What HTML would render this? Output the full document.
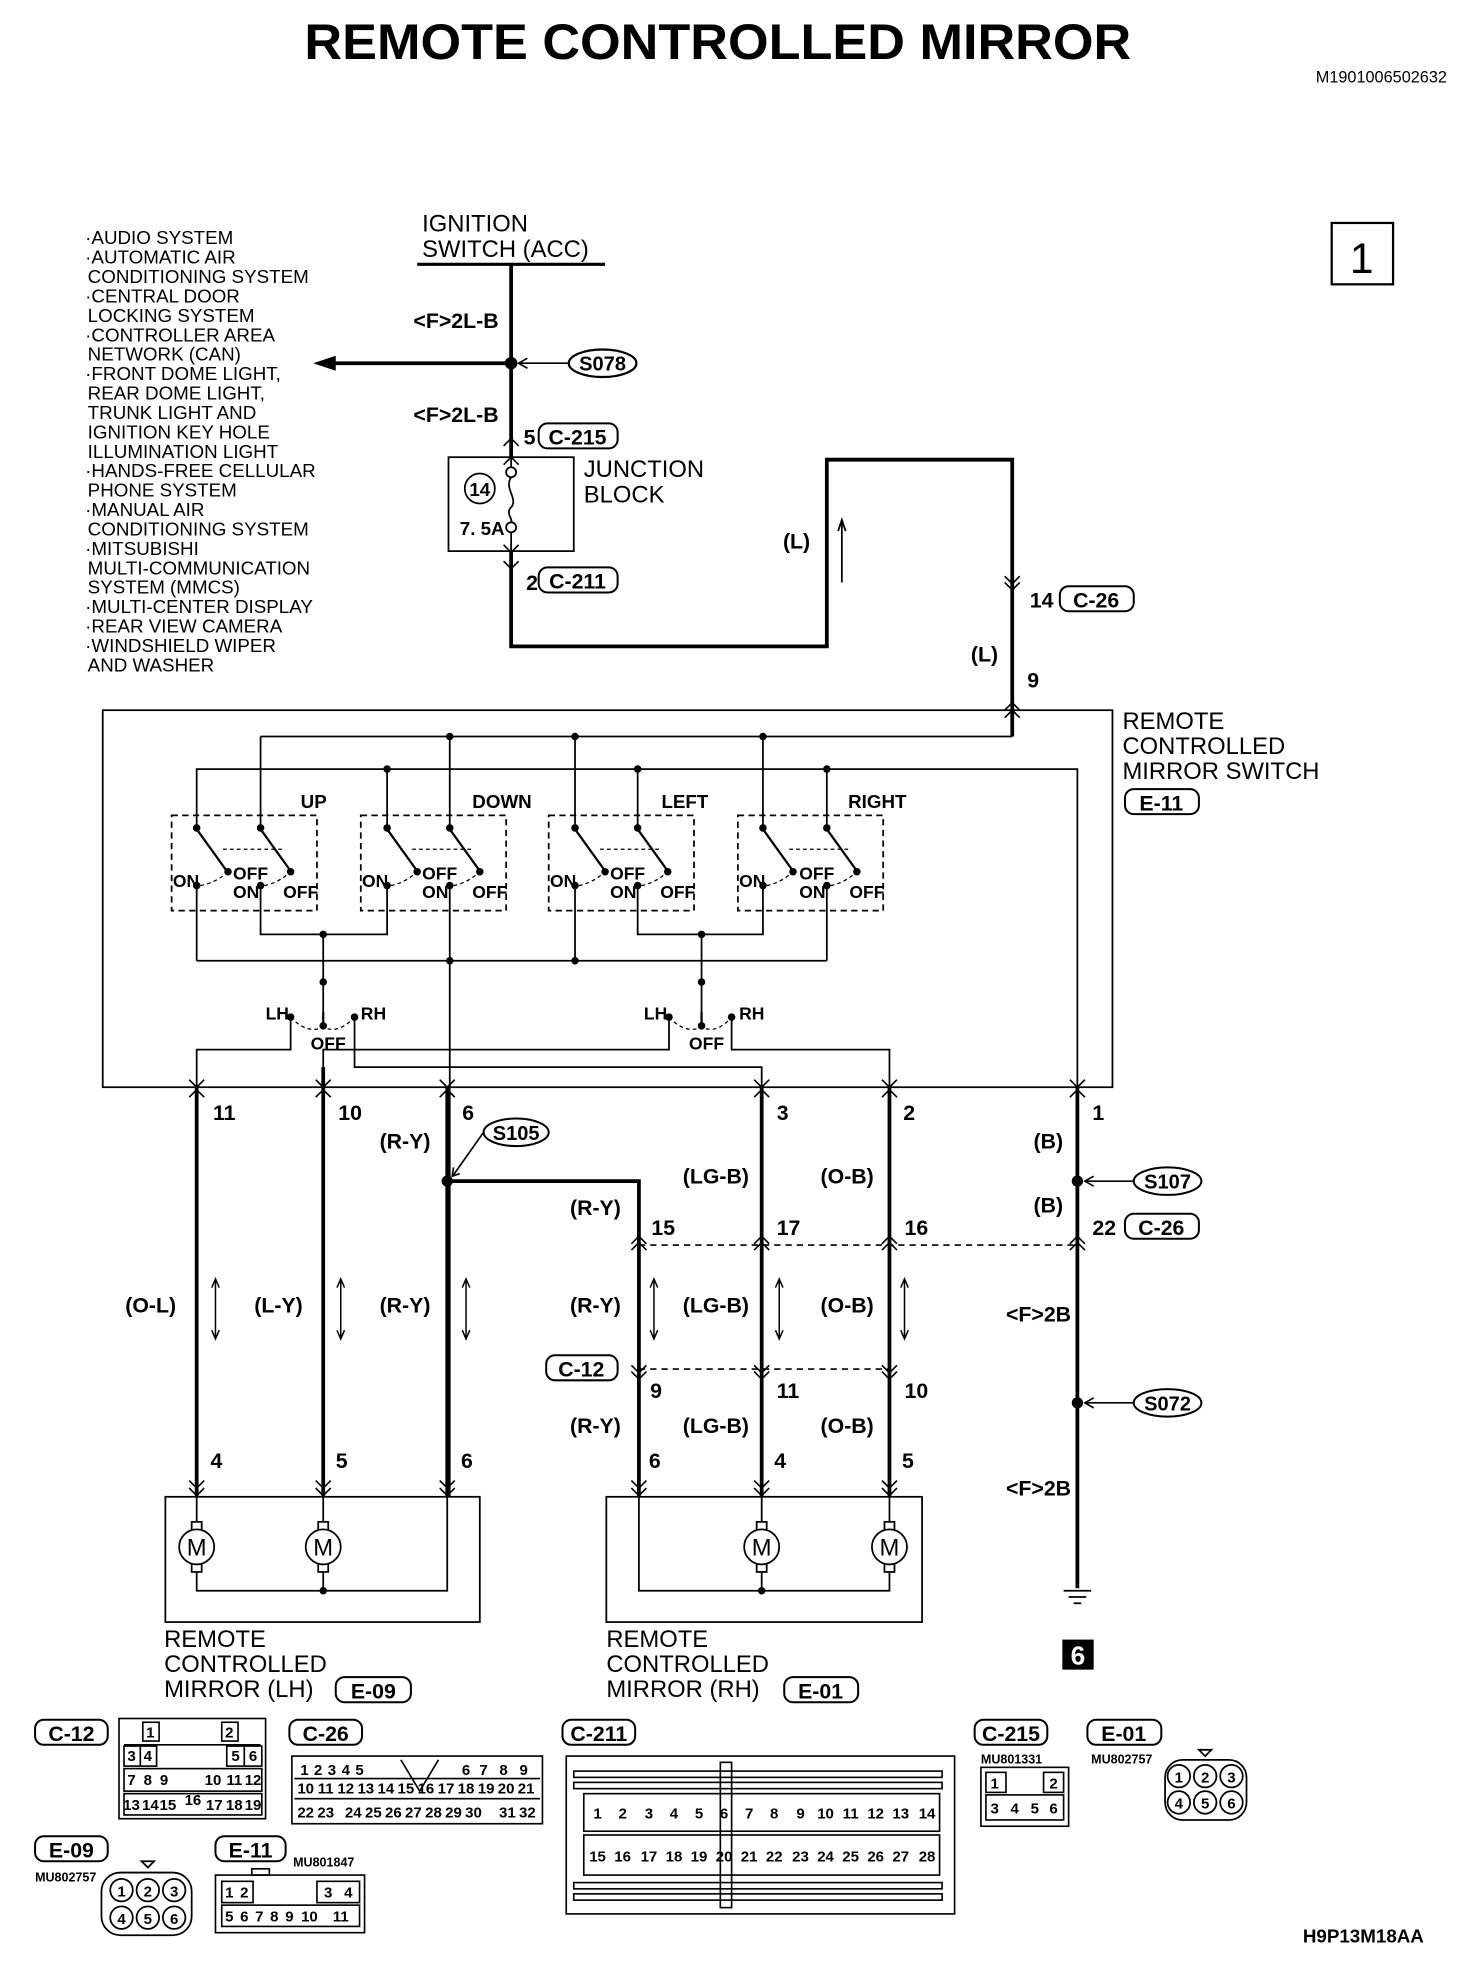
<!DOCTYPE html>
<html><head><meta charset="utf-8"><style>
html,body{margin:0;padding:0;background:#fff;}
svg{display:block}
.t{font-family:"Liberation Sans",sans-serif;}
.n{font-family:"Liberation Sans Narrow","Liberation Sans",sans-serif;font-weight:bold;}
</style></head><body>
<svg width="1472" height="1964" viewBox="0 0 1175 1568" preserveAspectRatio="none" xmlns="http://www.w3.org/2000/svg">
<rect width="1175" height="1568" fill="#fff"/>
<text class="t" x="243" y="47" font-size="40" font-weight="bold" textLength="660" lengthAdjust="spacingAndGlyphs">REMOTE CONTROLLED MIRROR</text>
<text class="t" x="1155" y="66" font-size="13" text-anchor="end">M1901006502632</text>
<rect x="1063" y="178" width="49" height="49" fill="none" stroke="#000" stroke-width="1.8"/>
<text class="t" x="1087" y="218" font-size="34" text-anchor="middle">1</text>

<g class="t" font-size="15">
<text x="68" y="195">·AUDIO SYSTEM</text>
<text x="68" y="210.5">·AUTOMATIC AIR</text>
<text x="70" y="226">CONDITIONING SYSTEM</text>
<text x="68" y="241.5">·CENTRAL DOOR</text>
<text x="70" y="257">LOCKING SYSTEM</text>
<text x="68" y="272.5">·CONTROLLER AREA</text>
<text x="70" y="288">NETWORK (CAN)</text>
<text x="68" y="303.5">·FRONT DOME LIGHT,</text>
<text x="70" y="319">REAR DOME LIGHT,</text>
<text x="70" y="334.5">TRUNK LIGHT AND</text>
<text x="70" y="350">IGNITION KEY HOLE</text>
<text x="70" y="365.5">ILLUMINATION LIGHT</text>
<text x="68" y="381">·HANDS-FREE CELLULAR</text>
<text x="70" y="396.5">PHONE SYSTEM</text>
<text x="68" y="412">·MANUAL AIR</text>
<text x="70" y="427.5">CONDITIONING SYSTEM</text>
<text x="68" y="443">·MITSUBISHI</text>
<text x="70" y="458.5">MULTI-COMMUNICATION</text>
<text x="70" y="474">SYSTEM (MMCS)</text>
<text x="68" y="489.5">·MULTI-CENTER DISPLAY</text>
<text x="68" y="505">·REAR VIEW CAMERA</text>
<text x="68" y="520.5">·WINDSHIELD WIPER</text>
<text x="70" y="536">AND WASHER</text>
</g>

<g class="t" font-size="19">
<text x="337" y="185">IGNITION</text>
<text x="337" y="205">SWITCH (ACC)</text>
<text x="466" y="381">JUNCTION</text>
<text x="466" y="401">BLOCK</text>
<text x="896" y="582">REMOTE</text>
<text x="896" y="602">CONTROLLED</text>
<text x="896" y="622">MIRROR SWITCH</text>
<text x="131" y="1315">REMOTE</text>
<text x="131" y="1335">CONTROLLED</text>
<text x="131" y="1355">MIRROR (LH)</text>
<text x="484" y="1315">REMOTE</text>
<text x="484" y="1335">CONTROLLED</text>
<text x="484" y="1355">MIRROR (RH)</text>
</g>
<line x1="333" y1="211" x2="483" y2="211" stroke="#000" stroke-width="2.5"/>

<g stroke="#000" stroke-width="3" fill="none">
<line x1="408" y1="211" x2="408" y2="365"/>
<line x1="265" y1="290" x2="408" y2="290"/>
<polyline points="408,440 408,516 660,516 660,367 808,367 808,588"/>
<line x1="157" y1="868" x2="157" y2="1195"/>
<line x1="258" y1="852" x2="258" y2="1195"/>
<line x1="357" y1="868" x2="357" y2="1195"/>
<polyline points="357,943 510,943 510,1195"/>
<line x1="608" y1="868" x2="608" y2="1195"/>
<line x1="710" y1="868" x2="710" y2="1195"/>
<line x1="860" y1="868" x2="860" y2="1268"/>
</g>
<polygon points="250,290 268,284 268,296" fill="#000"/>
<circle cx="408" cy="290" r="5" fill="#000"/>
<ellipse cx="481" cy="290" rx="27" ry="11" fill="#fff" stroke="#000" stroke-width="1.8"/>
<line x1="454" y1="290" x2="414" y2="290" stroke="#000" stroke-width="1.3"/>
<polyline points="421,286 414,290 421,294" fill="none" stroke="#000" stroke-width="1.3"/>

<g class="n" font-size="17">
<text x="481" y="296" text-anchor="middle" font-size="16">S078</text>
<text x="330" y="262">&lt;F&gt;2L-B</text>
<text x="330" y="337">&lt;F&gt;2L-B</text>
<text x="418" y="355">5</text>
<text x="420" y="471">2</text>
<text x="625" y="438">(L)</text>
<text x="822" y="485">14</text>
<text x="775" y="528">(L)</text>
<text x="820" y="549">9</text>
<text x="367" y="427" font-size="15">7. 5A</text>
<text x="240" y="645" font-size="15">UP</text>
<text x="377" y="645" font-size="15">DOWN</text>
<text x="528" y="645" font-size="15">LEFT</text>
<text x="677" y="645" font-size="15">RIGHT</text>
<text x="170" y="894">11</text><text x="270" y="894">10</text><text x="369" y="894">6</text>
<text x="620" y="894">3</text><text x="721" y="894">2</text><text x="872" y="894">1</text>
<text x="303" y="917">(R-Y)</text>
<text x="825" y="917">(B)</text>
<text x="545" y="945">(LG-B)</text>
<text x="655" y="945">(O-B)</text>
<text x="825" y="968">(B)</text>
<text x="455" y="970">(R-Y)</text>
<text x="520" y="986">15</text><text x="620" y="986">17</text><text x="722" y="986">16</text><text x="872" y="986">22</text>
<text x="100" y="1048">(O-L)</text><text x="203" y="1048">(L-Y)</text><text x="303" y="1048">(R-Y)</text>
<text x="455" y="1048">(R-Y)</text><text x="545" y="1048">(LG-B)</text><text x="655" y="1048">(O-B)</text>
<text x="803" y="1055">&lt;F&gt;2B</text>
<text x="519" y="1116">9</text><text x="620" y="1116">11</text><text x="722" y="1116">10</text>
<text x="455" y="1144">(R-Y)</text><text x="545" y="1144">(LG-B)</text><text x="655" y="1144">(O-B)</text>
<text x="168" y="1172">4</text><text x="268" y="1172">5</text><text x="368" y="1172">6</text>
<text x="518" y="1172">6</text><text x="618" y="1172">4</text><text x="720" y="1172">5</text>
<text x="803" y="1194">&lt;F&gt;2B</text>
</g>

<g stroke="#000" stroke-width="1.6" fill="#fff">
<rect x="430" y="338" width="63" height="20" rx="7"/>
<rect x="430" y="453" width="63" height="20" rx="7"/>
<rect x="846" y="468" width="59" height="20" rx="7"/>
<rect x="898" y="630" width="59" height="20" rx="7"/>
<rect x="898" y="969" width="59" height="20" rx="7"/>
<rect x="436" y="1082" width="57" height="20" rx="7"/>
<rect x="268" y="1339" width="60" height="20" rx="7"/>
<rect x="626" y="1339" width="59" height="20" rx="7"/>
<ellipse cx="412" cy="904" rx="26" ry="11"/>
<ellipse cx="932" cy="943" rx="27" ry="11"/>
<ellipse cx="932" cy="1120" rx="27" ry="11"/>
</g>
<g class="n" font-size="17" text-anchor="middle">
<text x="461" y="355">C-215</text><text x="461" y="470">C-211</text>
<text x="875" y="485">C-26</text><text x="927" y="647">E-11</text>
<text x="927" y="986">C-26</text><text x="464" y="1099">C-12</text>
<text x="298" y="1356">E-09</text><text x="655" y="1356">E-01</text>
<text x="412" y="910" font-size="16">S105</text>
<text x="932" y="949" font-size="16">S107</text>
<text x="932" y="1126" font-size="16">S072</text>
</g>
<g stroke="#000" stroke-width="1.3" fill="none">
<line x1="386" y1="904" x2="362" y2="938"/>
<line x1="905" y1="943" x2="866" y2="943"/><polyline points="873,939 866,943 873,947"/>
<line x1="905" y1="1120" x2="866" y2="1120"/><polyline points="873,1116 866,1120 873,1124"/>
</g>
<polyline points="362,932 361,939 367,937" fill="none" stroke="#000" stroke-width="1.3"/>
<circle cx="357" cy="943" r="4.5"/><circle cx="860" cy="943" r="4.5"/><circle cx="860" cy="1120" r="4.5"/>

<rect x="358" y="365" width="100" height="75" fill="none" stroke="#000" stroke-width="1.4"/>
<circle cx="383" cy="390" r="12" fill="none" stroke="#000" stroke-width="1.4"/>
<text class="n" x="383" y="396" font-size="15" text-anchor="middle">14</text>
<g stroke="#000" stroke-width="1.4" fill="none">
<line x1="408" y1="365" x2="408" y2="373"/><circle cx="408" cy="377" r="4" fill="#fff"/>
<path d="M408,381 C402,390 414,398 408,405 C403,410 410,414 408,418"/>
<circle cx="408" cy="421" r="4" fill="#fff"/><line x1="408" y1="425" x2="408" y2="440"/>
<line x1="672" y1="465" x2="672" y2="417"/><polyline points="669,424 672,415 675,424"/>
</g>

<g stroke="#000" stroke-width="1.3" fill="none">
<polyline points="402,356 408,350 414,356"/><polyline points="402,371 408,365 414,371"/>
<polyline points="402,435 408,441 414,435"/><polyline points="402,448 408,454 414,448"/>
<polyline points="802,460 808,466 814,460"/><polyline points="802,465 808,471 814,465"/>
<polyline points="802,567 808,561 814,567"/><polyline points="802,573 808,567 814,573"/>
<polyline points="151,862 157,868 163,862"/><polyline points="151,876 157,870 163,876"/>
<polyline points="252,862 258,868 264,862"/><polyline points="252,876 258,870 264,876"/>
<polyline points="351,862 357,868 363,862"/><polyline points="351,876 357,870 363,876"/>
<polyline points="602,862 608,868 614,862"/><polyline points="602,876 608,870 614,876"/>
<polyline points="704,862 710,868 716,862"/><polyline points="704,876 710,870 716,876"/>
<polyline points="854,862 860,868 866,862"/><polyline points="854,876 860,870 866,876"/>
<polyline points="504,998 510,992 516,998"/><polyline points="504,993 510,987 516,993"/>
<polyline points="602,998 608,992 614,998"/><polyline points="602,993 608,987 614,993"/>
<polyline points="704,998 710,992 716,998"/><polyline points="704,993 710,987 716,993"/>
<polyline points="854,998 860,992 866,998"/><polyline points="854,993 860,987 866,993"/>
<polyline points="504,1090 510,1096 516,1090"/><polyline points="504,1095 510,1101 516,1095"/>
<polyline points="602,1090 608,1096 614,1090"/><polyline points="602,1095 608,1101 614,1095"/>
<polyline points="704,1090 710,1096 716,1090"/><polyline points="704,1095 710,1101 716,1095"/>
<polyline points="151,1182 157,1188 163,1182"/><polyline points="151,1188 157,1194 163,1188"/>
<polyline points="252,1182 258,1188 264,1182"/><polyline points="252,1188 258,1194 264,1188"/>
<polyline points="351,1182 357,1188 363,1182"/><polyline points="351,1188 357,1194 363,1188"/>
<polyline points="504,1182 510,1188 516,1182"/><polyline points="504,1188 510,1194 516,1188"/>
<polyline points="602,1182 608,1188 614,1182"/><polyline points="602,1188 608,1194 614,1188"/>
<polyline points="704,1182 710,1188 716,1182"/><polyline points="704,1188 710,1194 716,1188"/>
</g>
<g stroke="#000" stroke-width="1.3" stroke-dasharray="5,4" fill="none">
<line x1="510" y1="994" x2="860" y2="994"/>
<line x1="510" y1="1093" x2="710" y2="1093"/>
</g>
<g stroke="#000" stroke-width="1.2" fill="none">
<line x1="172" y1="1022" x2="172" y2="1068"/><polyline points="169,1028 172,1021 175,1028"/><polyline points="169,1062 172,1069 175,1062"/>
<line x1="272" y1="1022" x2="272" y2="1068"/><polyline points="269,1028 272,1021 275,1028"/><polyline points="269,1062 272,1069 275,1062"/>
<line x1="372" y1="1022" x2="372" y2="1068"/><polyline points="369,1028 372,1021 375,1028"/><polyline points="369,1062 372,1069 375,1062"/>
<line x1="522" y1="1022" x2="522" y2="1068"/><polyline points="519,1028 522,1021 525,1028"/><polyline points="519,1062 522,1069 525,1062"/>
<line x1="622" y1="1022" x2="622" y2="1068"/><polyline points="619,1028 622,1021 625,1028"/><polyline points="619,1062 622,1069 625,1062"/>
<line x1="722" y1="1022" x2="722" y2="1068"/><polyline points="719,1028 722,1021 725,1028"/><polyline points="719,1062 722,1069 725,1062"/>
</g>

<g stroke="#000" stroke-width="1.4" fill="none">
<rect x="82" y="567" width="806" height="301"/>
<line x1="208" y1="588" x2="808" y2="588"/>
<polyline points="157,660 157,614 860,614 860,868"/>
<line x1="208" y1="588" x2="208" y2="660"/>
<line x1="309" y1="614" x2="309" y2="660"/><line x1="359" y1="588" x2="359" y2="660"/>
<line x1="459" y1="588" x2="459" y2="660"/><line x1="509" y1="614" x2="509" y2="660"/>
<line x1="609" y1="588" x2="609" y2="660"/><line x1="660" y1="614" x2="660" y2="660"/>
<line x1="157" y1="707" x2="157" y2="767"/>
<polyline points="208,707 208,746 309,746 309,707"/>
<line x1="359" y1="707" x2="359" y2="1195"/>
<line x1="459" y1="707" x2="459" y2="767"/>
<polyline points="509,707 509,746 609,746 609,707"/>
<line x1="660" y1="707" x2="660" y2="767"/>
<line x1="157" y1="767" x2="660" y2="767"/>
<line x1="258" y1="746" x2="258" y2="808"/>
<line x1="560" y1="746" x2="560" y2="808"/>
<polyline points="232,812 232,838 157,838 157,868"/>
<polyline points="258,852 258,838 534,838 534,812"/>
<polyline points="283,812 283,852 608,852 608,868"/>
<polyline points="584,812 584,838 710,838 710,868"/>
</g>
<g stroke="#000" stroke-width="1.4" stroke-dasharray="5,3.5" fill="none">
<rect x="137" y="651" width="116" height="76"/><rect x="288" y="651" width="116" height="76"/>
<rect x="438" y="651" width="116" height="76"/><rect x="589" y="651" width="116" height="76"/>
</g>
<g stroke="#000" stroke-width="1" stroke-dasharray="3,2.5" fill="none">
<path d="M178,678 L225,678 M329,678 L376,678 M479,678 L526,678 M630,678 L677,678"/>
<path d="M160,707 Q172,705 182,696 M211,707 Q222,705 232,696"/>
<path d="M312,707 Q323,705 333,696 M362,707 Q373,705 383,696"/>
<path d="M462,707 Q473,705 483,696 M512,707 Q523,705 533,696"/>
<path d="M612,707 Q623,705 633,696 M663,707 Q674,705 684,696"/>
<path d="M232,812 Q245,826 258,820 Q270,826 283,812"/>
<path d="M534,812 Q547,826 560,820 Q572,826 584,812"/>
</g>
<g stroke="#000" stroke-width="1.8">
<line x1="157" y1="662" x2="180" y2="694"/><line x1="208" y1="662" x2="231" y2="694"/>
<line x1="309" y1="662" x2="332" y2="694"/><line x1="359" y1="662" x2="382" y2="694"/>
<line x1="459" y1="662" x2="482" y2="694"/><line x1="509" y1="662" x2="532" y2="694"/>
<line x1="609" y1="662" x2="632" y2="694"/><line x1="660" y1="662" x2="683" y2="694"/>
<line x1="258" y1="808" x2="258" y2="818"/><line x1="560" y1="808" x2="560" y2="818"/>
</g>
<g fill="#000">
<circle cx="359" cy="588" r="3"/><circle cx="459" cy="588" r="3"/><circle cx="609" cy="588" r="3"/>
<circle cx="309" cy="614" r="3"/><circle cx="509" cy="614" r="3"/><circle cx="660" cy="614" r="3"/>
<circle cx="157" cy="661" r="3"/><circle cx="208" cy="661" r="3"/><circle cx="309" cy="661" r="3"/><circle cx="359" cy="661" r="3"/>
<circle cx="459" cy="661" r="3"/><circle cx="509" cy="661" r="3"/><circle cx="609" cy="661" r="3"/><circle cx="660" cy="661" r="3"/>
<circle cx="182" cy="696" r="3"/><circle cx="232" cy="696" r="3"/><circle cx="333" cy="696" r="3"/><circle cx="383" cy="696" r="3"/>
<circle cx="483" cy="696" r="3"/><circle cx="533" cy="696" r="3"/><circle cx="633" cy="696" r="3"/><circle cx="684" cy="696" r="3"/>
<circle cx="157" cy="707" r="3"/><circle cx="208" cy="707" r="3"/><circle cx="309" cy="707" r="3"/><circle cx="359" cy="707" r="3"/>
<circle cx="459" cy="707" r="3"/><circle cx="509" cy="707" r="3"/><circle cx="609" cy="707" r="3"/><circle cx="660" cy="707" r="3"/>
<circle cx="258" cy="746" r="3"/><circle cx="560" cy="746" r="3"/>
<circle cx="359" cy="767" r="3"/><circle cx="459" cy="767" r="3"/>
<circle cx="258" cy="784" r="3"/><circle cx="560" cy="784" r="3"/>
<circle cx="232" cy="812" r="3"/><circle cx="283" cy="812" r="3"/><circle cx="534" cy="812" r="3"/><circle cx="584" cy="812" r="3"/>
<circle cx="258" cy="819" r="3"/><circle cx="560" cy="819" r="3"/>
</g>
<g class="n" font-size="14">
<text x="138" y="708">ON</text><text x="186" y="702">OFF</text><text x="186" y="717">ON</text><text x="226" y="717">OFF</text>
<text x="289" y="708">ON</text><text x="337" y="702">OFF</text><text x="337" y="717">ON</text><text x="377" y="717">OFF</text>
<text x="439" y="708">ON</text><text x="487" y="702">OFF</text><text x="487" y="717">ON</text><text x="527" y="717">OFF</text>
<text x="590" y="708">ON</text><text x="638" y="702">OFF</text><text x="638" y="717">ON</text><text x="678" y="717">OFF</text>
<text x="212" y="814">LH</text><text x="288" y="814">RH</text><text x="248" y="838">OFF</text>
<text x="514" y="814">LH</text><text x="590" y="814">RH</text><text x="550" y="838">OFF</text>
</g>

<g stroke="#000" stroke-width="1.4" fill="none">
<rect x="132" y="1195" width="251" height="100"/>
<rect x="484" y="1195" width="252" height="100"/>
<polyline points="157,1195 157,1270 357,1270 357,1195"/>
<line x1="258" y1="1195" x2="258" y2="1270"/>
<polyline points="510,1195 510,1270 710,1270 710,1195"/>
<line x1="608" y1="1195" x2="608" y2="1270"/>
</g>
<g stroke="#000" stroke-width="1.4" fill="#fff">
<rect x="153" y="1215" width="8" height="40"/><circle cx="157" cy="1235" r="14"/>
<rect x="254" y="1215" width="8" height="40"/><circle cx="258" cy="1235" r="14"/>
<rect x="604" y="1215" width="8" height="40"/><circle cx="608" cy="1235" r="14"/>
<rect x="706" y="1215" width="8" height="40"/><circle cx="710" cy="1235" r="14"/>
</g>
<g class="t" font-size="19" text-anchor="middle">
<text x="157" y="1242">M</text><text x="258" y="1242">M</text><text x="608" y="1242">M</text><text x="710" y="1242">M</text>
</g>
<circle cx="258" cy="1270" r="3"/><circle cx="608" cy="1270" r="3"/>
<g stroke="#000" stroke-width="1.4">
<line x1="849" y1="1270" x2="871" y2="1270"/><line x1="853" y1="1275" x2="867" y2="1275"/><line x1="857" y1="1280" x2="863" y2="1280"/>
</g>
<rect x="848" y="1309" width="25" height="24" fill="#000"/>
<text class="n" x="860.5" y="1329" font-size="21" fill="#fff" text-anchor="middle">6</text>

<g stroke="#000" stroke-width="1.6" fill="#fff">
<rect x="28" y="1373" width="58" height="20" rx="7"/>
<rect x="231" y="1373" width="58" height="20" rx="7"/>
<rect x="449" y="1373" width="58" height="20" rx="7"/>
<rect x="778" y="1373" width="58" height="20" rx="7"/>
<rect x="868" y="1373" width="59" height="20" rx="7"/>
<rect x="28" y="1466" width="58" height="20" rx="7"/>
<rect x="172" y="1466" width="56" height="20" rx="7"/>
</g>
<g class="n" font-size="17" text-anchor="middle">
<text x="57" y="1390">C-12</text><text x="260" y="1390">C-26</text><text x="478" y="1390">C-211</text>
<text x="807" y="1390">C-215</text><text x="897" y="1390">E-01</text><text x="57" y="1483">E-09</text><text x="200" y="1483">E-11</text>
</g>
<g class="n" font-size="10">
<text x="783" y="1408">MU801331</text><text x="871" y="1408">MU802757</text>
<text x="28" y="1502">MU802757</text><text x="234" y="1490">MU801847</text>
</g>
<text class="n" x="1040" y="1551" font-size="15">H9P13M18AA</text>

<g stroke="#000" stroke-width="1.3" fill="none">
<rect x="95" y="1372" width="117" height="80"/>
<rect x="114" y="1375" width="13" height="15"/><rect x="177" y="1375" width="13" height="15"/>
<line x1="99" y1="1393" x2="208" y2="1393"/>
<rect x="99" y="1394" width="26" height="16"/><line x1="112" y1="1394" x2="112" y2="1410"/>
<rect x="181" y="1394" width="28" height="16"/><line x1="195" y1="1394" x2="195" y2="1410"/>
<rect x="99" y="1412" width="110" height="18"/>
<rect x="99" y="1432" width="110" height="17"/>
</g>
<g class="n" font-size="12" text-anchor="middle">
<text x="120" y="1387">1</text><text x="183" y="1387">2</text>
<text x="105" y="1406">3</text><text x="118" y="1406">4</text><text x="188" y="1406">5</text><text x="202" y="1406">6</text>
<text x="105" y="1425">7</text><text x="118" y="1425">8</text><text x="131" y="1425">9</text><text x="170" y="1425">10</text><text x="187" y="1425">11</text><text x="202" y="1425">12</text>
<text x="105" y="1445">13</text><text x="120" y="1445">14</text><text x="134" y="1445">15</text><text x="154" y="1441">16</text><text x="171" y="1445">17</text><text x="187" y="1445">18</text><text x="202" y="1445">19</text>
</g>
<g stroke="#000" stroke-width="1.3" fill="none">
<rect x="233" y="1402" width="200" height="54"/>
<line x1="235" y1="1420" x2="431" y2="1420"/><line x1="235" y1="1436" x2="431" y2="1436"/>
<polyline points="320,1405 335,1430 350,1405"/>
</g>
<g class="n" font-size="12" text-anchor="middle">
<text x="243" y="1417">1</text><text x="254" y="1417">2</text><text x="265" y="1417">3</text><text x="276" y="1417">4</text><text x="287" y="1417">5</text>
<text x="372" y="1417">6</text><text x="386" y="1417">7</text><text x="402" y="1417">8</text><text x="418" y="1417">9</text>
<text x="244" y="1432">10</text><text x="260" y="1432">11</text><text x="276" y="1432">12</text><text x="292" y="1432">13</text><text x="308" y="1432">14</text><text x="324" y="1432">15</text><text x="340" y="1432">16</text><text x="356" y="1432">17</text><text x="372" y="1432">18</text><text x="388" y="1432">19</text><text x="404" y="1432">20</text><text x="420" y="1432">21</text>
<text x="244" y="1451">22</text><text x="260" y="1451">23</text><text x="282" y="1451">24</text><text x="298" y="1451">25</text><text x="314" y="1451">26</text><text x="330" y="1451">27</text><text x="346" y="1451">28</text><text x="362" y="1451">29</text><text x="378" y="1451">30</text><text x="405" y="1451">31</text><text x="421" y="1451">32</text>
</g>
<g stroke="#000" stroke-width="1.3" fill="none">
<rect x="452" y="1402" width="310" height="126"/>
<rect x="458" y="1414" width="294" height="5"/><rect x="458" y="1423" width="294" height="5"/>
<rect x="458" y="1503" width="294" height="5"/><rect x="458" y="1512" width="294" height="5"/>
<rect x="466" y="1432" width="284" height="30"/><rect x="466" y="1465" width="284" height="32"/>
<rect x="575" y="1407" width="9" height="116"/>
</g>
<g class="n" font-size="12" text-anchor="middle">
<text x="477" y="1452">1</text><text x="497" y="1452">2</text><text x="518" y="1452">3</text><text x="538" y="1452">4</text><text x="558" y="1452">5</text><text x="578" y="1452">6</text><text x="598" y="1452">7</text><text x="618" y="1452">8</text><text x="639" y="1452">9</text><text x="659" y="1452">10</text><text x="679" y="1452">11</text><text x="699" y="1452">12</text><text x="719" y="1452">13</text><text x="740" y="1452">14</text>
<text x="477" y="1486">15</text><text x="497" y="1486">16</text><text x="518" y="1486">17</text><text x="538" y="1486">18</text><text x="558" y="1486">19</text><text x="578" y="1486">20</text><text x="598" y="1486">21</text><text x="618" y="1486">22</text><text x="639" y="1486">23</text><text x="659" y="1486">24</text><text x="679" y="1486">25</text><text x="699" y="1486">26</text><text x="719" y="1486">27</text><text x="740" y="1486">28</text>
</g>
<g stroke="#000" stroke-width="1.3" fill="none">
<rect x="783" y="1411" width="70" height="47"/>
<rect x="787" y="1415" width="16" height="16"/><rect x="833" y="1415" width="16" height="16"/>
<rect x="787" y="1433" width="62" height="20"/>
</g>
<g class="n" font-size="12" text-anchor="middle">
<text x="794" y="1428">1</text><text x="841" y="1428">2</text>
<text x="794" y="1448">3</text><text x="810" y="1448">4</text><text x="826" y="1448">5</text><text x="841" y="1448">6</text>
</g>
<g stroke="#000" stroke-width="1.4" fill="none">
<rect x="930" y="1405" width="65" height="48" rx="14"/>
<circle cx="941" cy="1418" r="9"/><circle cx="962" cy="1418" r="9"/><circle cx="983" cy="1418" r="9"/>
<circle cx="941" cy="1439" r="9"/><circle cx="962" cy="1439" r="9"/><circle cx="983" cy="1439" r="9"/>
<rect x="81" y="1495" width="72" height="50" rx="15"/>
<circle cx="97" cy="1509" r="9"/><circle cx="118" cy="1509" r="9"/><circle cx="139" cy="1509" r="9"/>
<circle cx="97" cy="1531" r="9"/><circle cx="118" cy="1531" r="9"/><circle cx="139" cy="1531" r="9"/>
<polygon points="957,1397 967,1397 962,1402"/><polygon points="113,1486 123,1486 118,1491"/>
</g>
<g class="n" font-size="12" text-anchor="middle">
<text x="941" y="1423">1</text><text x="962" y="1423">2</text><text x="983" y="1423">3</text>
<text x="941" y="1444">4</text><text x="962" y="1444">5</text><text x="983" y="1444">6</text>
<text x="97" y="1514">1</text><text x="118" y="1514">2</text><text x="139" y="1514">3</text>
<text x="97" y="1536">4</text><text x="118" y="1536">5</text><text x="139" y="1536">6</text>
</g>
<g stroke="#000" stroke-width="1.3" fill="none">
<rect x="172" y="1497" width="119" height="46"/>
<rect x="201" y="1492" width="14" height="5"/>
<rect x="177" y="1502" width="25" height="17"/><rect x="253" y="1502" width="34" height="17"/>
<rect x="177" y="1521" width="110" height="17"/>
</g>
<g class="n" font-size="12" text-anchor="middle">
<text x="183" y="1515">1</text><text x="195" y="1515">2</text><text x="262" y="1515">3</text><text x="278" y="1515">4</text>
<text x="183" y="1534">5</text><text x="195" y="1534">6</text><text x="207" y="1534">7</text><text x="219" y="1534">8</text><text x="231" y="1534">9</text><text x="247" y="1534">10</text><text x="272" y="1534">11</text>
</g>
</svg>
</body></html>
